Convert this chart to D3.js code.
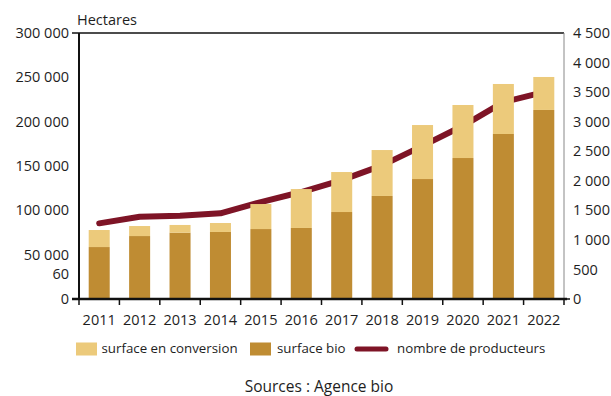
<!DOCTYPE html>
<html>
<head>
<meta charset="utf-8">
<script src="https://cdn.jsdelivr.net/npm/d3@7"></script>
<style>
  html, body { margin: 0; padding: 0; background: #fff; }
  svg { display: block; }
  text { font-family: "Open Sans", sans-serif; fill: #1e1e1e; }
</style>
</head>
<body>
<svg id="chart" width="611" height="396"></svg>
<script>
// ---- data ----
const years = ["2011","2012","2013","2014","2015","2016","2017","2018","2019","2020","2021","2022"];
const surfaceBio = [58600, 71000, 74800, 75600, 78900, 80100, 98100, 116200, 135300, 159000, 186100, 213200];
const surfaceConversion = [19200, 11300, 8700, 10100, 28200, 43900, 45100, 51800, 60900, 59800, 56400, 37200];
const producteurs = [1280, 1390, 1410, 1450, 1640, 1810, 2010, 2260, 2590, 2930, 3330, 3500];
const leftTicks = [0, 50000, 100000, 150000, 200000, 250000, 300000];
const rightTicks = [0, 500, 1000, 1500, 2000, 2500, 3000, 3500, 4000, 4500];
const strayLabel = ["60"];
const strayLabelValue = [28000];
const legendLabels = ["surface en conversion", "surface bio", "nombre de producteurs"];
const unitLabel = "Hectares";
const sourceLabel = "Sources : Agence bio";

// ---- styles ----
const cLight = "#ECCA7B", cDark = "#BF8C33", cLine = "#7E1426";
const svg = d3.select("#chart");
const L = 79, R = 564, T = 33, B = 299;

const fr = d3.formatLocale({decimal: ",", thousands: " ", grouping: [3], currency: ["", " €"]});
const fmt = fr.format(",d");

const x = d3.scaleBand().domain(years).range([L, R]).paddingInner(0.48).paddingOuter(0.24);
const yL = d3.scaleLinear().domain([0, 300000]).range([B, T]);
const yR = d3.scaleLinear().domain([0, 4500]).range([B, T]);

// frame: top and right
svg.append("line").attr("x1", 72).attr("x2", R).attr("y1", T).attr("y2", T)
  .attr("stroke", "#111").attr("stroke-width", 1.3);
svg.append("line").attr("x1", R).attr("x2", R).attr("y1", T).attr("y2", B)
  .attr("stroke", "#888").attr("stroke-width", 1);

// line (drawn under bars)
const line = d3.line().x((d, i) => x(years[i]) + x.bandwidth() / 2).y(d => yR(d));
svg.append("path").datum(producteurs).attr("d", line)
  .attr("fill", "none").attr("stroke", cLine).attr("stroke-width", 6)
  .attr("stroke-linecap", "round").attr("stroke-linejoin", "round");

// bars
const g = svg.append("g");
g.selectAll("rect.bio").data(surfaceBio).join("rect")
  .attr("x", (d, i) => x(years[i])).attr("width", x.bandwidth())
  .attr("y", d => yL(d)).attr("height", d => B - yL(d)).attr("fill", cDark);
g.selectAll("rect.conv").data(surfaceConversion).join("rect")
  .attr("x", (d, i) => x(years[i])).attr("width", x.bandwidth())
  .attr("y", (d, i) => yL(d + surfaceBio[i])).attr("height", (d, i) => yL(surfaceBio[i]) - yL(d + surfaceBio[i]))
  .attr("fill", cLight);

// left axis
svg.append("line").attr("x1", L).attr("x2", L).attr("y1", T).attr("y2", B + 1)
  .attr("stroke", "#111").attr("stroke-width", 2);
svg.selectAll("text.yl").data(leftTicks).join("text")
  .attr("x", 69).attr("y", d => yL(d)).attr("dy", "0.35em")
  .attr("text-anchor", "end").attr("font-size", 14.5).text(d => fmt(d));
svg.selectAll("line.ytl").data([0]).join("line")
  .attr("x1", 72).attr("x2", L).attr("y1", d => yL(d)).attr("y2", d => yL(d))
  .attr("stroke", "#111").attr("stroke-width", 1.5);
svg.selectAll("text.stray").data(strayLabel).join("text")
  .attr("x", 69).attr("y", (d, i) => yL(strayLabelValue[i])).attr("dy", "0.35em")
  .attr("text-anchor", "end").attr("font-size", 14.5).text(d => d);

// right axis labels
svg.selectAll("text.yr").data(rightTicks).join("text")
  .attr("x", 573).attr("y", d => yR(d)).attr("dy", "0.35em")
  .attr("text-anchor", "start").attr("font-size", 14.5).text(d => fmt(d));
svg.append("line").attr("x1", R).attr("x2", R + 6).attr("y1", B).attr("y2", B)
  .attr("stroke", "#111").attr("stroke-width", 1.5);

// bottom axis
svg.append("line").attr("x1", 72).attr("x2", R + 3).attr("y1", B).attr("y2", B)
  .attr("stroke", "#111").attr("stroke-width", 2.5);
const step = x.step();
const bounds = d3.range(years.length + 1).map(i => L + i * step);
svg.selectAll("line.xt").data(bounds).join("line")
  .attr("x1", d => d).attr("x2", d => d).attr("y1", B).attr("y2", B + 6)
  .attr("stroke", "#111").attr("stroke-width", 1.5);
svg.selectAll("text.xl").data(years).join("text")
  .attr("x", d => x(d) + x.bandwidth() / 2).attr("y", 325)
  .attr("text-anchor", "middle").attr("font-size", 14.5).text(d => d);

// unit label
svg.append("text").attr("x", 77).attr("y", 25).attr("font-size", 14.5).text(unitLabel);

// legend
const ly = 349;
svg.append("rect").attr("x", 76).attr("y", ly - 6.5).attr("width", 21).attr("height", 13).attr("fill", cLight);
svg.append("text").attr("x", 101.5).attr("y", ly).attr("dy", "0.33em").attr("font-size", 13.3).text(legendLabels[0]);
svg.append("rect").attr("x", 250).attr("y", ly - 6.5).attr("width", 21).attr("height", 13).attr("fill", cDark);
svg.append("text").attr("x", 277).attr("y", ly).attr("dy", "0.33em").attr("font-size", 13.3).text(legendLabels[1]);
svg.append("line").attr("x1", 357).attr("x2", 386).attr("y1", ly).attr("y2", ly)
  .attr("stroke", cLine).attr("stroke-width", 5).attr("stroke-linecap", "round");
svg.append("text").attr("x", 397).attr("y", ly).attr("dy", "0.33em").attr("font-size", 13.3).text(legendLabels[2]);

// source
svg.append("text").attr("x", 319).attr("y", 387).attr("dy", "0.35em")
  .attr("text-anchor", "middle").attr("font-size", 15.5).text(sourceLabel);
</script>
</body>
</html>
